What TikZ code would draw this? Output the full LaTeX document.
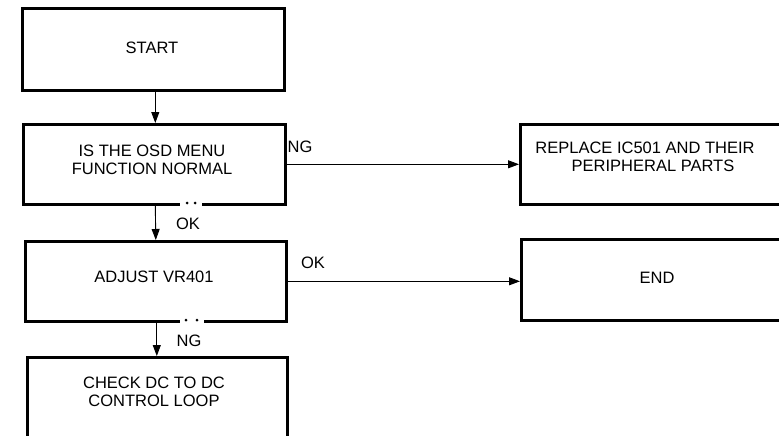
\documentclass[tikz,border=0pt]{standalone}
\usepackage{fontspec}
\setmainfont{Liberation Sans}
\usetikzlibrary{arrows.meta}
\begin{document}
\begin{tikzpicture}[x=1pt,y=-1pt,
  box/.style={draw,line width=2.6pt,minimum width=#1,inner sep=0pt,anchor=north west},
  lbl/.style={font=\fontsize{16.5}{18.5}\selectfont,inner sep=0pt,align=center},
  conn/.style={line width=0.9pt,-{Triangle[length=11pt,width=8pt]}}]
\useasboundingbox (0,0) rectangle (779,436);
\clip (0,0) rectangle (779,436);
% boxes
\node[box=262pt,minimum height=82pt] (start) at (21,7) {};
\node[box=262pt,minimum height=80pt] (osd) at (22,123) {};
\node[box=261pt,minimum height=80pt] (adj) at (24,240) {};
\node[box=260pt,minimum height=95pt] (chk) at (26,356) {};
\node[box=290pt,minimum height=80pt] (rep) at (519,123) {};
\node[box=290pt,minimum height=81pt] (endb) at (520,238) {};
% texts
\node[lbl] (tstart) at (152,48) {START};
\node[lbl] (tosd) at (152,160) {IS THE OSD MENU\\FUNCTION NORMAL};
\node[lbl] (tadj) at (154,277) {ADJUST VR401};
\node[lbl] (tchk) at (154,392) {CHECK DC TO DC\\CONTROL LOOP};
\node[lbl] (trep) at (645,157) {REPLACE IC501 AND THEIR\\\hspace*{16pt}PERIPHERAL PARTS};
\node[lbl] (tend) at (657,278) {END};
% gaps with dots in bottom edges
\fill[white] (180,200) rectangle (202,207);
\fill (187,203) circle (1.5);
\fill (195,203) circle (1.5);
\fill[white] (180,317) rectangle (204,324);
\fill (186,320) circle (1.5);
\fill (197,320) circle (1.5);
% connectors
\draw[conn] ([xshift=2pt]start.south) -- ([xshift=1pt]osd.north);
\draw[conn] ([xshift=1pt]osd.south) -- (adj.north);
\draw[conn] ([xshift=1pt]adj.south) -- ([xshift=-0.5pt]chk.north);
\draw[conn] (osd.east) -- (rep.west);
\draw[conn] (adj.east) -- (endb.west |- adj.east);
% labels
\node[lbl] (ng1) at (300,147) {NG};
\node[lbl] (ok1) at (188,224) {OK};
\node[lbl] (ok2) at (313,263) {OK};
\node[lbl] (ng2) at (189,341) {NG};
\end{tikzpicture}
\end{document}
